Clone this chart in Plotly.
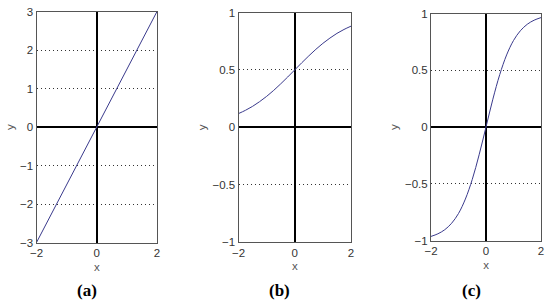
import plotly.graph_objects as go

# (a) linear
lin_x = [-2, 2]
lin_y = [-3, 3]

# (b) logistic
sig_x = [-2, -1.75, -1.5, -1.25, -1, -0.75, -0.5, -0.25, 0, 0.25, 0.5, 0.75, 1, 1.25, 1.5, 1.75, 2]
sig_y = [0.119, 0.148, 0.182, 0.223, 0.269, 0.321, 0.378, 0.438, 0.5,
         0.562, 0.622, 0.679, 0.731, 0.777, 0.818, 0.852, 0.881]

# (c) tanh
tanh_x = [-2, -1.75, -1.5, -1.25, -1, -0.75, -0.5, -0.25, 0, 0.25, 0.5, 0.75, 1, 1.25, 1.5, 1.75, 2]
tanh_y = [-0.964, -0.941, -0.905, -0.848, -0.762, -0.635, -0.462, -0.245, 0,
          0.245, 0.462, 0.635, 0.762, 0.848, 0.905, 0.941, 0.964]

x_ticks = [-2, 0, 2]
a_ticks = [-3, -2, -1, 0, 1, 2, 3]
bc_ticks = [-1, -0.5, 0, 0.5, 1]
bc_ticktext = ['\u22121', '\u22120.5', '0', '0.5', '1']
panel_labels = ['(a)', '(b)', '(c)']
label_x = [86.5, 279, 471]   # pixel centres of the panel captions

W, H = 550, 302
line_col = '#3a3a8c'
tick_font = dict(family='Liberation Sans, Arial', size=11.5, color='#333')
title_font = dict(family='Liberation Sans, Arial', size=11.5, color='#555')

fig = go.Figure()
fig.add_trace(go.Scatter(x=lin_x, y=lin_y, mode='lines', line=dict(color=line_col, width=1), xaxis='x', yaxis='y'))
fig.add_trace(go.Scatter(x=sig_x, y=sig_y, mode='lines', line=dict(color=line_col, width=1, shape='spline'), xaxis='x2', yaxis='y2'))
fig.add_trace(go.Scatter(x=tanh_x, y=tanh_y, mode='lines', line=dict(color=line_col, width=1, shape='spline'), xaxis='x3', yaxis='y3'))

# plot boxes in pixels: (left, right, top, bottom)
boxes = [(36.5, 157, 11.5, 242.5), (238.5, 351, 12.5, 242), (431, 541, 13.5, 240.5)]

def xdom(l, r):
    return [l / W, r / W]

def ydom(t, b):
    return [1 - b / H, 1 - t / H]

axis_common = dict(showline=True, mirror=True, linecolor='#555', linewidth=1,
                   zeroline=True, zerolinecolor='black', zerolinewidth=2,
                   ticks='', tickfont=tick_font, fixedrange=True, automargin=False)

layout = dict(width=W, height=H, margin=dict(l=0, r=0, t=0, b=0),
              plot_bgcolor='white', paper_bgcolor='white', showlegend=False)

for i, (l, r, t, b) in enumerate(boxes):
    sfx = '' if i == 0 else str(i + 1)
    if i == 0:
        yt = dict(tickvals=a_ticks, ticktext=['\u22123', '\u22122', '\u22121', '0', '1', '2', '3'], range=[-3, 3])
    else:
        yt = dict(tickvals=bc_ticks, ticktext=bc_ticktext, range=[-1, 1])
    layout['xaxis' + sfx] = dict(axis_common, domain=xdom(l, r), anchor='y' + sfx, range=[-2, 2],
                                 tickvals=x_ticks, ticktext=['\u22122', '0', '2'], showgrid=False,
                                 title=dict(text='x', font=title_font, standoff=4))
    layout['yaxis' + sfx] = dict(axis_common, domain=ydom(t, b), anchor='x' + sfx,
                                 showgrid=True, gridcolor='#333', griddash='1px,3px', gridwidth=1,
                                 title=dict(text='y', font=title_font, standoff=3),
                                 **yt)

fig.update_layout(**layout)

for lab, lx in zip(panel_labels, label_x):
    fig.add_annotation(text='<b>' + lab + '</b>', x=lx / W, y=1 - 290 / H,
                       xref='paper', yref='paper', showarrow=False, yanchor='middle', xanchor='center',
                       font=dict(family='Liberation Serif, DejaVu Serif', size=17, color='black'))

fig.write_html("out.html", config={'displayModeBar': False},
               post_script="document.body.style.margin='0';")
